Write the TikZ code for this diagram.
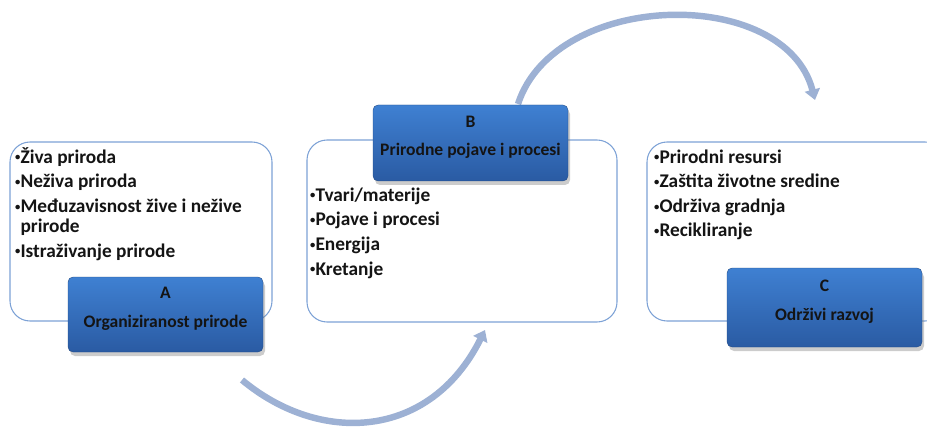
\documentclass[tikz,border=0pt]{standalone}
\usepackage{fontspec}
\setmainfont{Carlito}
\usetikzlibrary{arrows.meta,fit,shadows}
\definecolor{panelline}{HTML}{7DA2D6}
\definecolor{tagtop}{HTML}{3F80D2}
\definecolor{tagbottom}{HTML}{2A5BA3}
\definecolor{arcblue}{HTML}{9DB1D4}
\definecolor{inktext}{HTML}{141414}
\newcommand{\itembul}{\raisebox{0.25ex}{\scalebox{0.55}{•}}}
\tikzset{
  panel/.style={draw=panelline, line width=0.9pt, fill=white, rounded corners=0.6cm, inner sep=0pt},
  tag/.style={rounded corners=0.15cm, top color=tagtop, bottom color=tagbottom,
    draw=tagbottom!80!black, line width=0.3pt, inner sep=0pt,
    drop shadow={shadow xshift=0.6mm, shadow yshift=-1.2mm, opacity=0.4},
    font=\fontsize{15}{24}\selectfont\bfseries, text=inktext, align=center},
  items/.style={anchor=base west, inner sep=0pt, align=left,
    font=\fontsize{16.5}{17}\selectfont\bfseries, text=inktext},
  turn/.style={arcblue, line width=5.5pt, -{Triangle[length=9pt,width=13pt]}}
}
\begin{document}
\begin{tikzpicture}
        [x=0.03cm,y=-0.03cm]
        \clip (0,0) rectangle (927,428);

        \coordinate (b1) at (242,380);
        \coordinate (b2) at (485,330);
        \coordinate (t1) at (518,104);
        \coordinate (t2) at (815,100);
        \draw[turn] (b1) .. controls (320,445) and (430,440) .. (b2);
        \draw[turn] (t1) .. controls (555,-10) and (785,-15) .. (t2);

        \node[panel, fit={(10,142) (272,321)}] (pa) {};
        \node[panel, fit={(307,140) (617,322)}] (pb) {};
        \node[panel, fit={(647,142) (945,321)}] (pc) {};

        \node[items] (la) at (15,257) {\itembul Živa priroda\\[4pt]\itembul Neživa priroda\\[4pt]\itembul Međuzavisnost žive i nežive\\\phantom{\itembul}prirode\\[4pt]\itembul Istraživanje prirode};
        \node[items] (lb) at (310,275) {\itembul Tvari/materije\\[4pt]\itembul Pojave i procesi\\[4pt]\itembul Energija\\[4pt]\itembul Kretanje};
        \node[items] (lc) at (654,237) {\itembul Prirodni resursi\\[4pt]\itembul Zaštita životne sredine\\[4pt]\itembul Održiva gradnja\\[4pt]\itembul Recikliranje};

        \node[tag, fit={(68,277) (263,352)}] (ta) {A\\Organiziranost prirode};
        \node[tag, fit={(373,105) (568,181)}] (tb) {B\\Prirodne pojave i procesi};
        \node[tag, fit={(727,268) (922,347)}] (tc) {C\\Održivi razvoj};
      \end{tikzpicture}
\end{document}
